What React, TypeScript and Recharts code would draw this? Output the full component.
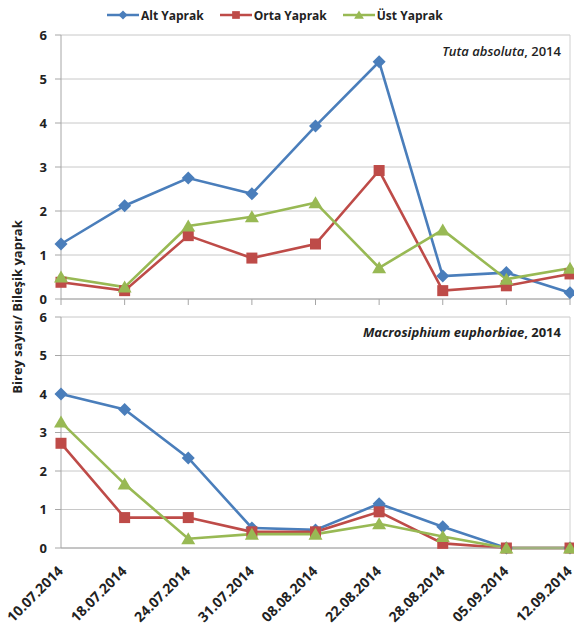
import { LineChart, Line, XAxis, YAxis, CartesianGrid, Legend, ReferenceLine } from 'recharts';

const dates = ['10.07.2014', '18.07.2014', '24.07.2014', '31.07.2014', '08.08.2014', '22.08.2014', '28.08.2014', '05.09.2014', '12.09.2014'];

// Tuta absoluta, 2014
const tutaAlt = [1.25, 2.12, 2.75, 2.39, 3.93, 5.39, 0.52, 0.6, 0.14];
const tutaOrta = [0.38, 0.19, 1.44, 0.93, 1.25, 2.92, 0.19, 0.3, 0.57];
const tutaUst = [0.5, 0.27, 1.66, 1.87, 2.19, 0.71, 1.57, 0.45, 0.7];

// Macrosiphium euphorbiae, 2014
const macroAlt = [4.0, 3.6, 2.34, 0.52, 0.47, 1.15, 0.55, 0, 0];
const macroOrta = [2.72, 0.79, 0.79, 0.42, 0.42, 0.94, 0.12, 0, 0];
const macroUst = [3.27, 1.66, 0.24, 0.36, 0.36, 0.63, 0.3, 0, 0];

const yTicks = [0, 1, 2, 3, 4, 5, 6];

const tutaData = dates.map((d, i) => ({ date: d, alt: tutaAlt[i], orta: tutaOrta[i], ust: tutaUst[i] }));
const macroData = dates.map((d, i) => ({ date: d, alt: macroAlt[i], orta: macroOrta[i], ust: macroUst[i] }));

const BLUE = '#4a7ebb';
const RED = '#be4b48';
const GREEN = '#98b954';
const AXIS = '#a6a6a6';
const FONT = '"Open Sans", "Liberation Sans", sans-serif';

const Diamond = ({ cx, cy }: any) => (
  <path d={`M${cx},${cy - 6.5}L${cx + 6.5},${cy}L${cx},${cy + 6.5}L${cx - 6.5},${cy}Z`} fill={BLUE} />
);
const Square = ({ cx, cy }: any) => <rect x={cx - 5.5} y={cy - 5.5} width={11} height={11} fill={RED} />;
const Triangle = ({ cx, cy }: any) => (
  <path d={`M${cx},${cy - 6.5}L${cx + 7},${cy + 5.5}L${cx - 7},${cy + 5.5}Z`} fill={GREEN} />
);

const legendItems = [
  { name: 'Alt Yaprak', color: BLUE, Icon: Diamond },
  { name: 'Orta Yaprak', color: RED, Icon: Square },
  { name: 'Üst Yaprak', color: GREEN, Icon: Triangle },
];

// fixed height so the plot top lands where the reference has it
const renderLegend = () => (
  <div style={{ display: 'flex', height: 18, alignItems: 'center', paddingLeft: 107, fontFamily: FONT, fontWeight: 700, fontSize: 12, color: '#222' }}>
    {legendItems.map(({ name, color, Icon }) => (
      <div key={name} style={{ display: 'flex', alignItems: 'center', marginRight: 16 }}>
        <svg width={32} height={14}>
          <line x1={0} y1={7} x2={32} y2={7} stroke={color} strokeWidth={2.5} />
          <g transform="translate(16,7) scale(0.7) translate(-16,-7)">
            <Icon cx={16} cy={7} />
          </g>
        </svg>
        <span style={{ marginLeft: 2 }}>{name}</span>
      </div>
    ))}
  </div>
);

const DateTick = ({ x, y, payload }: any) => (
  <g transform={`translate(${x + 3},${y + 22})`}>
    <text textAnchor="end" transform="rotate(-45)" fontFamily={FONT} fontWeight={700} fontSize={14} fill="#222">
      {payload.value}
    </text>
  </g>
);

const yTickStyle = { fontFamily: FONT, fontWeight: 700, fontSize: 13, fill: '#222' };

const series = [
  { key: 'alt', color: BLUE, Icon: Diamond, name: 'Alt Yaprak' },
  { key: 'orta', color: RED, Icon: Square, name: 'Orta Yaprak' },
  { key: 'ust', color: GREEN, Icon: Triangle, name: 'Üst Yaprak' },
];

const renderLines = () =>
  series.map(({ key, color, Icon, name }) => (
    <Line
      key={key}
      dataKey={key}
      name={name}
      stroke={color}
      strokeWidth={2.6}
      isAnimationActive={false}
      dot={(p: any) => <Icon key={`${key}-${p.index}`} cx={p.cx} cy={p.cy} />}
      activeDot={false}
    />
  ));

export default function App() {
  return (
    <div style={{ position: 'absolute', left: 0, top: 0, width: 574, height: 633, background: '#fff', overflow: 'hidden' }}>
      <div style={{ position: 'absolute', left: 0, top: 0 }}>
        <LineChart width={574} height={310} data={tutaData} margin={{ top: 17, right: 4, bottom: 3, left: 0 }}>
          <CartesianGrid vertical={false} stroke="#c8c8c8" />
          <XAxis dataKey="date" height={8} tickFormatter={() => ''} stroke={AXIS} tickSize={6} interval={0} />
          <YAxis width={61} domain={[0, 6]} ticks={yTicks} tick={yTickStyle} stroke={AXIS} tickSize={6} tickMargin={8} />
          <ReferenceLine x={dates[dates.length - 1]} stroke="#d0d0d0" />
          <Legend verticalAlign="top" content={renderLegend} wrapperStyle={{ top: 6, left: 0, width: 574, height: 18 }} />
          {renderLines()}
        </LineChart>
      </div>
      <div style={{ position: 'absolute', left: 0, top: 300 }}>
        <LineChart width={574} height={333} data={macroData} margin={{ top: 17, right: 4, bottom: 0, left: 0 }}>
          <CartesianGrid vertical={false} stroke="#c8c8c8" />
          <XAxis dataKey="date" height={85} tick={<DateTick />} stroke={AXIS} tickSize={0} interval={0} />
          <YAxis width={61} domain={[0, 6]} ticks={yTicks} tick={yTickStyle} stroke={AXIS} tickSize={6} tickMargin={8} />
          <ReferenceLine x={dates[dates.length - 1]} stroke="#d0d0d0" />
          {renderLines()}
        </LineChart>
      </div>
      <div style={{ position: 'absolute', right: 13, top: 42, fontFamily: FONT, fontSize: 13, fontWeight: 600, color: '#222' }}>
        <i>Tuta absoluta</i>, 2014
      </div>
      <div style={{ position: 'absolute', right: 13, top: 323, fontFamily: FONT, fontSize: 13, fontWeight: 700, color: '#222' }}>
        <i>Macrosiphium euphorbiae</i>, 2014
      </div>
      <svg style={{ position: 'absolute', left: 0, top: 0 }} width={40} height={633}>
        <text
          transform="translate(22,307) rotate(-90)"
          textAnchor="middle"
          fontFamily={FONT}
          fontWeight={700}
          fontSize={13}
          fill="#222"
        >
          Birey sayısı/ Bileşik yaprak
        </text>
      </svg>
    </div>
  );
}
